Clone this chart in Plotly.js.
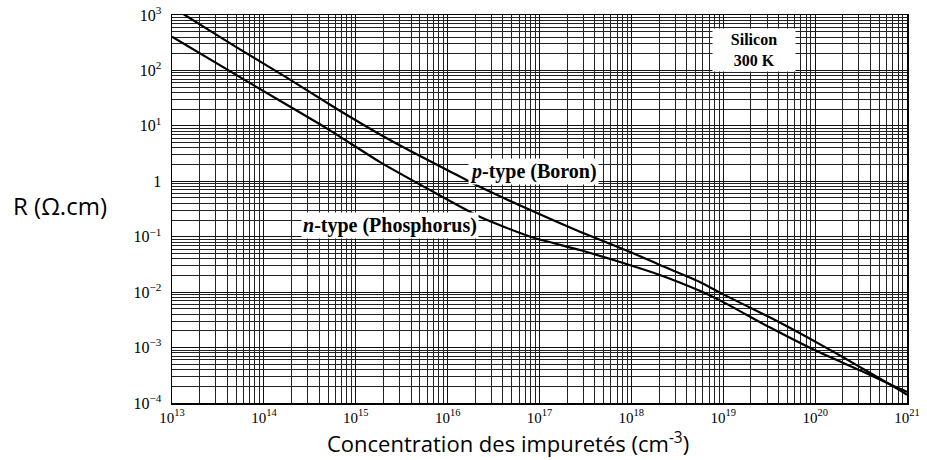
<!DOCTYPE html>
<html>
<head>
<meta charset="utf-8">
<script src="https://cdn.plot.ly/plotly-3.0.1.min.js"></script>
<style>html,body{margin:0;padding:0;background:#fff;}#chart{width:927px;height:460px;}</style>
</head>
<body>
<div id="chart"></div>
<script>
// Impurity concentration (log10 of cm^-3) and resistivity (log10 of ohm.cm)
var nTypeLogN = [13.0, 13.85, 14.68, 15.26, 15.81, 16.35, 16.9, 17.44, 17.98, 18.31, 18.75, 19.0, 19.5, 20.0, 20.5, 20.85, 21.0];
var nTypeLogR = [2.61, 1.77, 0.96, 0.35, -0.16, -0.64, -1.0, -1.24, -1.51, -1.69, -1.98, -2.18, -2.63, -3.05, -3.42, -3.69, -3.80];
var pTypeLogN = [13.0, 13.14, 13.7, 14.25, 14.8, 15.26, 15.59, 16.0, 16.35, 16.9, 17.44, 17.98, 18.31, 18.75, 19.0, 19.5, 19.91, 20.3, 20.6, 20.85, 21.0];
var pTypeLogR = [3.15, 3.0, 2.42, 1.87, 1.30, 0.85, 0.55, 0.20, -0.10, -0.52, -0.91, -1.27, -1.51, -1.82, -2.04, -2.45, -2.81, -3.17, -3.46, -3.70, -3.85];
var xTickVals = [1e13, 1e14, 1e15, 1e16, 1e17, 1e18, 1e19, 1e20, 1e21];
var xTickText = ['10<sup>13</sup>','10<sup>14</sup>','10<sup>15</sup>','10<sup>16</sup>','10<sup>17</sup>','10<sup>18</sup>','10<sup>19</sup>','10<sup>20</sup>','10<sup>21</sup>'];
var yTickVals = [1e3, 1e2, 1e1, 1, 1e-1, 1e-2, 1e-3, 1e-4];
var yTickText = ['10<sup>3</sup>','10<sup>2</sup>','10<sup>1</sup>','1','10<sup>\u22121</sup>','10<sup>\u22122</sup>','10<sup>\u22123</sup>','10<sup>\u22124</sup>'];

function pow10(a){ return a.map(function(v){ return Math.pow(10, v); }); }

var traces = [
  {x: pow10(pTypeLogN), y: pow10(pTypeLogR), mode: 'lines', name: 'p-type (Boron)',
   line: {color: '#000', width: 2.2, shape: 'spline', smoothing: 0.6}},
  {x: pow10(nTypeLogN), y: pow10(nTypeLogR), mode: 'lines', name: 'n-type (Phosphorus)',
   line: {color: '#000', width: 2.2, shape: 'spline', smoothing: 0.6}}
];

var serif = 'Liberation Serif, Times New Roman, serif';
var sans = 'Open Sans, Noto Sans, sans-serif';
var layout = {
  width: 927, height: 460,
  margin: {l: 172, r: 20, t: 15, b: 57},
  paper_bgcolor: '#fff', plot_bgcolor: '#fff',
  showlegend: false,
  xaxis: {
    type: 'log', range: [13, 21],
    tickvals: xTickVals, ticktext: xTickText,
    tickfont: {family: serif, size: 15, color: '#000'},
    ticks: '', showline: true, linecolor: '#000', linewidth: 1.5, mirror: true,
    showgrid: true, gridcolor: '#111', gridwidth: 1,
    minor: {dtick: 'D1', showgrid: true, gridcolor: '#222', gridwidth: 1},
    zeroline: false
  },
  yaxis: {
    type: 'log', range: [-4, 3],
    tickvals: yTickVals, ticktext: yTickText,
    tickfont: {family: serif, size: 16, color: '#000'},
    ticklabelstandoff: 6,
    ticks: '', showline: true, linecolor: '#000', linewidth: 1.5, mirror: true,
    showgrid: true, gridcolor: '#111', gridwidth: 1,
    minor: {dtick: 'D1', showgrid: true, gridcolor: '#222', gridwidth: 1},
    zeroline: false
  },
  annotations: [
    {xref: 'paper', yref: 'paper', x: -0.153, y: 0.51, xanchor: 'center', yanchor: 'middle',
     text: 'R (\u03A9.cm)', showarrow: false, font: {family: sans, size: 24, color: '#000'}},
    {xref: 'paper', yref: 'paper', x: 0.457, y: -0.102, xanchor: 'center', yanchor: 'middle',
     text: 'Concentration des impuret\u00e9s (cm<sup>-3</sup>)', showarrow: false,
     font: {family: sans, size: 22, color: '#000'}},
    {x: 16.93, y: 0.17, xref: 'x', yref: 'y', text: '<i>p</i>-type (Boron)', showarrow: false,
     bgcolor: '#fff', borderpad: 1, font: {family: serif, size: 20, color: '#000', weight: 'bold'}},
    {x: 15.37, y: -0.79, xref: 'x', yref: 'y', text: '<i>n</i>-type (Phosphorus)', showarrow: false,
     bgcolor: '#fff', borderpad: 1, font: {family: serif, size: 20, color: '#000', weight: 'bold'}},
    {x: 19.33, y: 2.37, xref: 'x', yref: 'y', text: 'Silicon<br>300 K', showarrow: false, width: 78,
     bgcolor: '#fff', borderpad: 2, font: {family: serif, size: 16, color: '#000', weight: 'bold'}}
  ]
};

Plotly.newPlot('chart', traces, layout, {displayModeBar: false, staticPlot: true});
</script>
</body>
</html>
